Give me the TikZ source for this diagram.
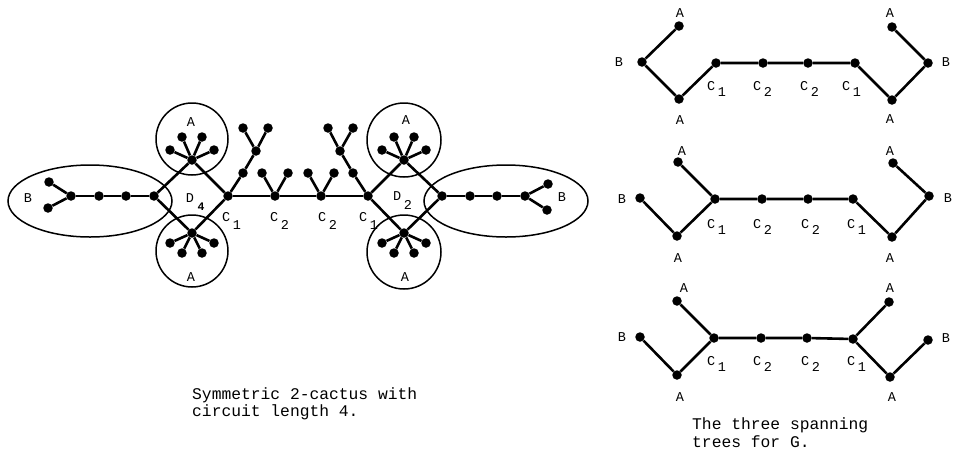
\documentclass[tikz,border=0pt]{standalone}
\usepackage{fontspec}
\setmonofont{Liberation Mono}
\tikzset{
  dot/.style={circle,fill=black,inner sep=0pt,minimum size=9.5pt},
  edge/.style={line width=2.6pt},
  ring/.style={line width=1.5pt},
  lab/.style={font=\ttfamily\fontsize{13.5}{15}\selectfont,inner sep=0pt},
  slab/.style={lab,anchor=base west},
  capt/.style={font=\ttfamily\fontsize{16.3}{17.5}\selectfont,inner sep=0pt,anchor=base west,align=left}
}
\newcommand{\subl}[3][-6pt]{#2\kern2.5pt\raisebox{#1}{#3}}
\begin{document}
\begin{tikzpicture}[x=1pt,y=-1pt]
\useasboundingbox (0,0) rectangle (954,456);

% ---------- left diagram: rings ----------
\draw[ring] (90,201) ellipse [x radius=82, y radius=36];
\draw[ring] (506,201) ellipse [x radius=82, y radius=36];
\draw[ring] (192,139) circle [radius=36];
\draw[ring] (192,251) circle [radius=36];
\draw[ring] (404,140) circle [radius=37];
\draw[ring] (404,252) circle [radius=37];

% ---------- left diagram: vertices ----------
\node[dot] (lb1) at (49,182) {};
\node[dot] (lb2) at (48,208) {};
\node[dot] (lbh) at (71,196) {};
\node[dot] (lb3) at (99,196) {};
\node[dot] (lb4) at (126,196) {};
\node[dot] (L) at (154,196) {};
\node[dot] (T) at (192,160) {};
\node[dot] (Bt) at (192,233) {};
\node[dot] (ta1) at (182,137) {};
\node[dot] (ta2) at (202,137) {};
\node[dot] (ta3) at (170,150) {};
\node[dot] (ta4) at (214,150) {};
\node[dot] (ba1) at (182,253) {};
\node[dot] (ba2) at (202,253) {};
\node[dot] (ba3) at (170,243) {};
\node[dot] (ba4) at (214,243) {};
\node[dot] (C1) at (228,196) {};
\node[dot] (C2) at (275,196) {};
\node[dot] (C3) at (321,196) {};
\node[dot] (C4) at (368,196) {};
\node[dot] (p1) at (243,173) {};
\node[dot] (p2) at (256,151) {};
\node[dot] (p3) at (243,128) {};
\node[dot] (p4) at (268,128) {};
\node[dot] (q1) at (262,173) {};
\node[dot] (q2) at (288,173) {};
\node[dot] (r1) at (308,173) {};
\node[dot] (r2) at (334,173) {};
\node[dot] (s1) at (353,173) {};
\node[dot] (s2) at (340,151) {};
\node[dot] (s3) at (328,128) {};
\node[dot] (s4) at (353,128) {};
\node[dot] (T2) at (404,160) {};
\node[dot] (Bt2) at (404,233) {};
\node[dot] (tb1) at (394,137) {};
\node[dot] (tb2) at (414,137) {};
\node[dot] (tb3) at (382,150) {};
\node[dot] (tb4) at (426,150) {};
\node[dot] (bb1) at (394,253) {};
\node[dot] (bb2) at (414,253) {};
\node[dot] (bb3) at (382,243) {};
\node[dot] (bb4) at (426,243) {};
\node[dot] (R) at (442,196) {};
\node[dot] (rb4) at (470,196) {};
\node[dot] (rb3) at (497,196) {};
\node[dot] (rbh) at (525,196) {};
\node[dot] (rb1) at (548,184) {};
\node[dot] (rb2) at (547,210) {};

% ---------- left diagram: edges ----------
\draw[edge] (lb1) -- (lbh) -- (lb2);
\draw[edge] (lbh) -- (lb3) -- (lb4) -- (L);
\draw[edge] (L) -- (T) -- (C1) -- (Bt) -- (L);
\foreach \v in {ta1,ta2,ta3,ta4} \draw[edge] (T) -- (\v);
\foreach \v in {ba1,ba2,ba3,ba4} \draw[edge] (Bt) -- (\v);
\draw[edge] (C1) -- (C2) -- (C3) -- (C4);
\draw[edge] (C1) -- (p1) -- (p2) -- (p3);
\draw[edge] (p2) -- (p4);
\draw[edge] (q1) -- (C2) -- (q2);
\draw[edge] (r1) -- (C3) -- (r2);
\draw[edge] (C4) -- (s1) -- (s2) -- (s3);
\draw[edge] (s2) -- (s4);
\draw[edge] (C4) -- (T2) -- (R) -- (Bt2) -- (C4);
\foreach \v in {tb1,tb2,tb3,tb4} \draw[edge] (T2) -- (\v);
\foreach \v in {bb1,bb2,bb3,bb4} \draw[edge] (Bt2) -- (\v);
\draw[edge] (R) -- (rb4) -- (rb3) -- (rbh);
\draw[edge] (rb1) -- (rbh) -- (rb2);

% ---------- left diagram: labels ----------
\node[lab] (lB) at (28,198) {B};
\node[lab] (lA1) at (191,122) {A};
\node[lab] (lA2) at (191,277) {A};
\node[lab] (lD) at (190,198) {D};
\node[lab,font=\ttfamily\bfseries\fontsize{11.5}{12}\selectfont] (l4) at (201,207) {4};
\node[slab] (lC1) at (222,221.7) {\subl[-8pt]{C}{1}};
\node[slab] (lC2) at (270,221.7) {\subl[-8pt]{C}{2}};
\node[slab] (lC3) at (318,221.7) {\subl[-8pt]{C}{2}};
\node[slab] (lC4) at (359,221.7) {\subl[-8pt]{C}{1}};
\node[slab] (lD2) at (393,200.7) {\subl[-9pt]{D}{2}};
\node[lab] (lA3) at (406,120) {A};
\node[lab] (lA4) at (405,277) {A};
\node[lab] (lB2) at (562,197) {B};

\node[capt] (cap1) at (192,416.5) {Symmetric 2-cactus with\\circuit length 4.};

% ---------- tree 1 ----------
\node[dot] (ua1) at (679,26) {};
\node[dot] (ub1) at (642,62) {};
\node[dot] (ua2) at (679,99) {};
\node[dot] (uc1) at (716,63) {};
\node[dot] (uc2) at (763,63) {};
\node[dot] (uc3) at (808,63) {};
\node[dot] (uc4) at (855,63) {};
\node[dot] (ua3) at (892,100) {};
\node[dot] (ub2) at (928,63) {};
\node[dot] (ua4) at (892,27) {};
\draw[edge] (ua1) -- (ub1) -- (ua2) -- (uc1) -- (uc2) -- (uc3) -- (uc4) -- (ua3) -- (ub2) -- (ua4);
\node[lab] (uA1) at (680,13) {A};
\node[lab] (uB1) at (619,62) {B};
\node[lab] (uA2) at (680,120) {A};
\node[lab] (uA4) at (890,13) {A};
\node[lab] (uB2) at (946,62) {B};
\node[lab] (uA3) at (890,119) {A};
\node[slab] (uC1) at (707,90.7) {\subl{C}{1}};
\node[slab] (uC2) at (753,90.7) {\subl{C}{2}};
\node[slab] (uC3) at (800,90.7) {\subl{C}{2}};
\node[slab] (uC4) at (842,90.7) {\subl{C}{1}};

% ---------- tree 2 ----------
\node[dot] (va1) at (678,162) {};
\node[dot] (vb1) at (640,198) {};
\node[dot] (va2) at (677,236) {};
\node[dot] (vc1) at (715,199) {};
\node[dot] (vc2) at (762,199) {};
\node[dot] (vc3) at (808,199) {};
\node[dot] (vc4) at (853,199) {};
\node[dot] (va3) at (892,237) {};
\node[dot] (vb2) at (929,196) {};
\node[dot] (va4) at (893,163) {};
\draw[edge] (va1) -- (vc1);
\draw[edge] (vb1) -- (va2) -- (vc1) -- (vc2) -- (vc3) -- (vc4) -- (va3) -- (vb2) -- (va4);
\node[lab] (vA1) at (682,151) {A};
\node[lab] (vB1) at (622,199) {B};
\node[lab] (vA2) at (678,258) {A};
\node[lab] (vA4) at (890,151) {A};
\node[lab] (vB2) at (948,198) {B};
\node[lab] (vA3) at (890,258) {A};
\node[slab] (vC1) at (707,228.7) {\subl{C}{1}};
\node[slab] (vC2) at (753,228.7) {\subl{C}{2}};
\node[slab] (vC3) at (801,228.7) {\subl{C}{2}};
\node[slab] (vC4) at (847,228.7) {\subl{C}{1}};

% ---------- tree 3 ----------
\node[dot] (wa1) at (677,301) {};
\node[dot] (wb1) at (640,337) {};
\node[dot] (wa2) at (677,375) {};
\node[dot] (wc1) at (714,338) {};
\node[dot] (wc2) at (761,338) {};
\node[dot] (wc3) at (807,338) {};
\node[dot] (wc4) at (853,339) {};
\node[dot] (wa4) at (889,302) {};
\node[dot] (wb2) at (928,340) {};
\node[dot] (wa3) at (890,377) {};
\draw[edge] (wa1) -- (wc1);
\draw[edge] (wb1) -- (wa2) -- (wc1) -- (wc2) -- (wc3) -- (wc4) -- (wa4);
\draw[edge] (wc4) -- (wa3) -- (wb2);
\node[lab] (wA1) at (684,288) {A};
\node[lab] (wB1) at (622,337) {B};
\node[lab] (wA2) at (680,397) {A};
\node[lab] (wA4) at (890,288) {A};
\node[lab] (wB2) at (946,338) {B};
\node[lab] (wA3) at (892,397) {A};
\node[slab] (wC1) at (707,365.4) {\subl{C}{1}};
\node[slab] (wC2) at (753,365.4) {\subl{C}{2}};
\node[slab] (wC3) at (801,365.4) {\subl{C}{2}};
\node[slab] (wC4) at (847,365.4) {\subl{C}{1}};

\node[capt] (cap2) at (692,447) {The three spanning\\trees for G.};
\end{tikzpicture}
\end{document}
